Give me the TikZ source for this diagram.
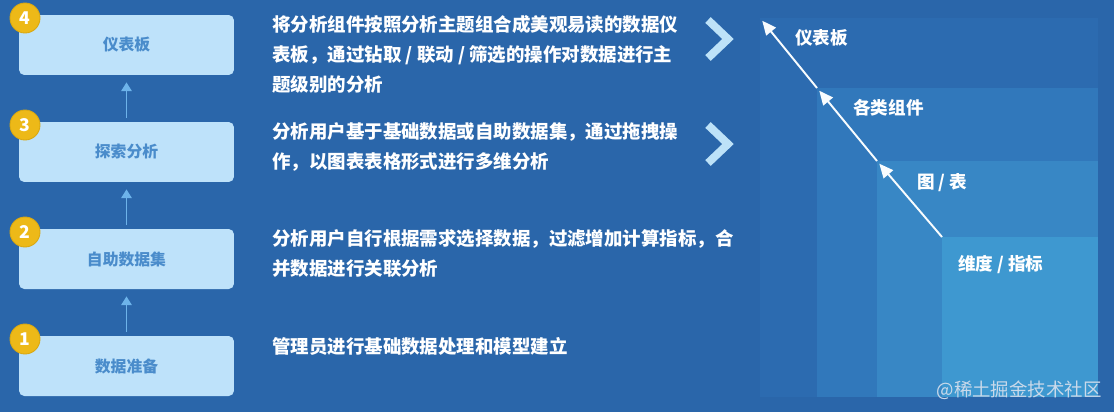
\documentclass[tikz,border=0pt]{standalone}
\usepackage{fontspec}
\setmainfont{Noto Sans CJK SC}
\usetikzlibrary{positioning,arrows.meta}

\definecolor{bgblue}{HTML}{2A66AA}
\definecolor{boxblue}{HTML}{BEE2FA}
\definecolor{boxtext}{HTML}{4A8CCB}
\definecolor{badgeyellow}{HTML}{EDB918}
\definecolor{badgeedge}{HTML}{D9A812}
\definecolor{linkblue}{HTML}{6DB3EA}
\definecolor{chevblue}{HTML}{BDE2F8}
\definecolor{layerfour}{HTML}{2C6BB0}
\definecolor{layerthree}{HTML}{3178BB}
\definecolor{layertwo}{HTML}{3887C5}
\definecolor{layerone}{HTML}{3E98D0}
\definecolor{marktext}{HTML}{C9D9EA}

\tikzset{
    stepbox/.style={
        fill=boxblue,
        rounded corners=3pt,
        minimum width=4.3cm,
        minimum height=1.2cm,
        text=boxtext,
        font=\fontsize{9}{11}\selectfont\bfseries
    },
    badge/.style={
        circle,
        fill=badgeyellow,
        draw=badgeedge,
        line width=0.5pt,
        minimum size=0.6cm,
        inner sep=0pt,
        text=white,
        font=\fontsize{10}{12}\selectfont\bfseries
    },
    desc/.style={
        anchor=north west,
        align=left,
        inner sep=0pt,
        text=white,
        font=\fontsize{10.5}{17}\selectfont\bfseries
    },
    layer/.style={
        anchor=north west,
        inner sep=0pt
    },
    tag/.style={
        anchor=west,
        inner sep=0pt,
        text=white,
        font=\fontsize{10}{12}\selectfont\bfseries
    },
    uplink/.style={
        draw=linkblue,
        line width=0.9pt,
        -{Triangle[length=5pt,width=6pt]}
    },
    climb/.style={
        draw=white!90!chevblue,
        line width=1.1pt,
        -{Triangle[length=8pt,width=7pt]}
    },
    chevron/.style={
        draw=chevblue,
        line width=4.5pt,
        miter limit=10
    }
}

\begin{document}
\begin{tikzpicture}[x=0.02cm,y=-0.02cm]

\useasboundingbox (0,0) rectangle (1118,416);
\fill[white] (0,0) rectangle (1118,416);
\fill[bgblue] (0,0) rectangle (1114,412);

% Steps
\node (dash) [stepbox] at (126.5,45) {仪表板};
\node (explore) [stepbox] at (126.5,152) {探索分析};
\node (selfset) [stepbox] at (126.5,259) {自助数据集};
\node (prep) [stepbox] at (126.5,366) {数据准备};

\node (b4) [badge] at (25,18) {4};
\node (b3) [badge] at (25,125) {3};
\node (b2) [badge] at (25,232) {2};
\node (b1) [badge] at (25,339) {1};

\draw [uplink] ([yshift=2pt]prep.north) -- ([yshift=-4pt]selfset.south);
\draw [uplink] ([yshift=2pt]selfset.north) -- ([yshift=-4pt]explore.south);
\draw [uplink] ([yshift=2pt]explore.north) -- ([yshift=-4pt]dash.south);

% Descriptions
\node (d4) [desc] at (272,15.5) {将分析组件按照分析主题组合成美观易读的数据仪\\表板，通过钻取 / 联动 / 筛选的操作对数据进行主\\题级别的分析};
\node (d3) [desc] at (272,122.5) {分析用户基于基础数据或自助数据集，通过拖拽操\\作，以图表表格形式进行多维分析};
\node (d2) [desc] at (272,229.5) {分析用户自行根据需求选择数据，过滤增加计算指标，合\\并数据进行关联分析};
\node (d1) [desc] at (272,337.5) {管理员进行基础数据处理和模型建立};

\draw [chevron] (708,20) -- (728,39) -- (708,58);
\draw [chevron] (708,125) -- (728,144) -- (708,163);

% Layers
\node (lv4) [layer, fill=layerfour, minimum width=6.76cm, minimum height=7.58cm] at (760,18) {};
\node (lv3) [layer, fill=layerthree, minimum width=5.62cm, minimum height=6.18cm] at (817,88) {};
\node (lv2) [layer, fill=layertwo, minimum width=4.42cm, minimum height=4.72cm] at (877,161) {};
\node (lv1) [layer, fill=layerone, minimum width=3.12cm, minimum height=3.2cm] at (942,237) {};

\draw [climb, shorten >=2pt] (lv1.north west) -- (lv2.north west);
\draw [climb, shorten >=2pt] (lv2.north west) -- (lv3.north west);
\draw [climb, shorten >=2pt] (lv3.north west) -- (lv4.north west);

\node (t4) [tag] at (795,38) {仪表板};
\node (t3) [tag] at (853,108) {各类组件};
\node (t2) [tag] at (917,183) {图 / 表};
\node (t1) [tag] at (958,265) {维度 / 指标};

\node (mark) [anchor=east, inner sep=0pt, text=marktext, font=\fontsize{10.5}{12}\selectfont] at (1102,390) {@稀土掘金技术社区};

\end{tikzpicture}
\end{document}
